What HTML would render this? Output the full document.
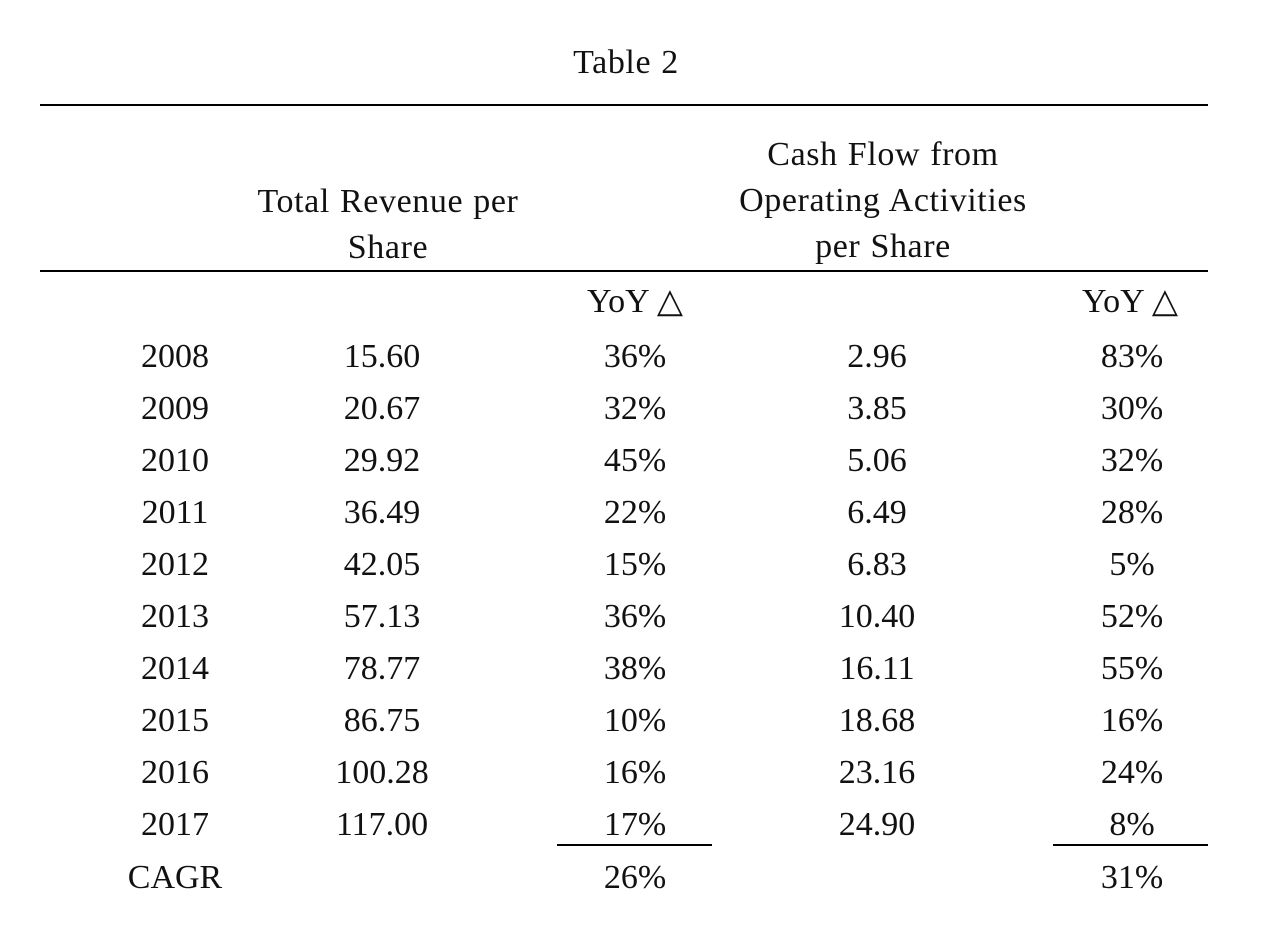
<!DOCTYPE html>
<html><head><meta charset="utf-8"><style>
body{margin:0;width:1266px;height:934px;background:#fff;position:relative;overflow:hidden;font-family:"Liberation Serif",serif;color:#111;}
.t{position:absolute;font-size:34px;line-height:34px;white-space:nowrap;transform:translateX(-50%);}
.h{letter-spacing:0.6px;word-spacing:1px;}
.r{position:absolute;height:1.5px;background:#000;}
</style></head><body>
<div class="t h" style="left:626px;top:46px">Table 2</div>
<div class="r" style="left:40px;top:104px;width:1168px"></div>
<div class="t h" style="left:388px;top:179px;text-align:center;line-height:46px">Total Revenue per<br>Share</div>
<div class="t h" style="left:883px;top:132px;text-align:center;line-height:46px">Cash Flow from<br>Operating Activities<br>per Share</div>
<div class="r" style="left:40px;top:270px;width:1168px"></div>
<div class="t" style="left:635px;top:285px">YoY △</div>
<div class="t" style="left:1130px;top:285px">YoY △</div>
<div class="r" style="left:557px;top:844px;width:155px"></div>
<div class="r" style="left:1053px;top:844px;width:155px"></div>
<div id="rows"></div>
<script>
const years=["2008","2009","2010","2011","2012","2013","2014","2015","2016","2017","CAGR"];
const revenue=["15.60","20.67","29.92","36.49","42.05","57.13","78.77","86.75","100.28","117.00",""];
const revYoy=["36%","32%","45%","22%","15%","36%","38%","10%","16%","17%","26%"];
const cashflow=["2.96","3.85","5.06","6.49","6.83","10.40","16.11","18.68","23.16","24.90",""];
const cfYoy=["83%","30%","32%","28%","5%","52%","55%","16%","24%","8%","31%"];
const cols=[[years,175,'year'],[revenue,382,'revenue'],[revYoy,635,'revenue-yoy'],[cashflow,877,'cashflow'],[cfYoy,1132,'cashflow-yoy']];
const host=document.getElementById('rows');
years.forEach((y,i)=>{
  const top=340+i*52+(i===10?1:0);
  cols.forEach(([arr,x,name])=>{
    if(!arr[i])return;
    const d=document.createElement('div');
    d.className='t';
    d.style.left=x+'px';d.style.top=top+'px';
    d.textContent=arr[i];
    
    
    host.appendChild(d);
  });
});
</script>
</body></html>
